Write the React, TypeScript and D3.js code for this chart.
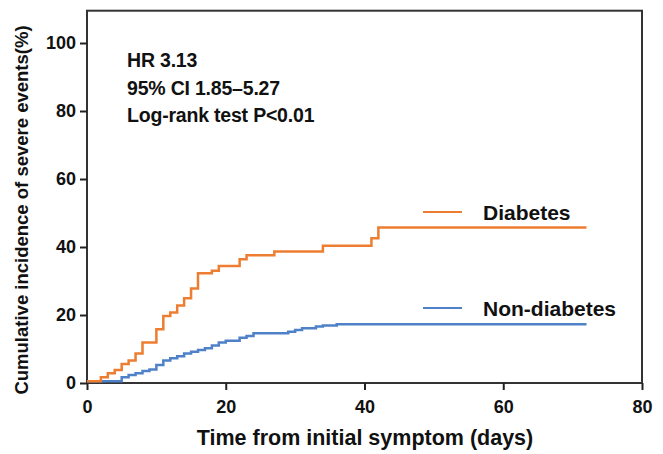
import React, { useEffect, useRef } from "react";
import * as d3 from "d3";

// step points: [day, cumulative %]
const diabetesDays = [0, 2, 3, 4, 5, 6, 7, 8, 10, 11, 12, 13, 14, 15, 16, 18, 19, 22, 23, 27, 34, 41, 42, 72];
const diabetesPct = [0.5, 1.7, 2.9, 3.8, 5.6, 6.6, 8.7, 11.9, 15.8, 19.7, 20.7, 22.8, 24.9, 27.8, 32.3, 33.0, 34.4, 36.4, 37.6, 38.7, 40.4, 42.6, 45.7, 45.7];

const nonDiabetesDays = [0, 5, 6, 7, 8, 9, 10, 11, 12, 13, 14, 15, 16, 17, 18, 19, 20, 22, 23, 24, 29, 30, 31, 33, 34, 36, 72];
const nonDiabetesPct = [0.5, 1.7, 2.35, 2.85, 3.5, 4.0, 5.3, 6.6, 7.3, 7.9, 8.7, 9.2, 9.7, 10.2, 11.0, 11.9, 12.4, 13.3, 13.8, 14.6, 15.1, 15.6, 16.1, 16.6, 16.9, 17.3, 17.3];

const xTicks = [0, 20, 40, 60, 80];
const yTicks = [0, 20, 40, 60, 80, 100];

const statLines = ["HR 3.13", "95% CI 1.85\u20135.27", "Log-rank test P<0.01"];

const ORANGE = "#ED7D31";
const BLUE = "#4F81C9";
const FONT = "'Liberation Sans', Arial, sans-serif";

const App = () => {
  const xAxisRef = useRef(null);
  const yAxisRef = useRef(null);

  const x = d3.scaleLinear().domain([0, 80]).range([87, 642]);
  const y = d3.scaleLinear().domain([0, 100]).range([383, 43]);
  const yTop = 109.5;

  const line = d3
    .line<number>()
    .x((d) => x(d[0]))
    .y((d) => y(d[1]))
    .curve(d3.curveStepAfter);

  const diabetes = diabetesDays.map((d, i) => [d, diabetesPct[i]]);
  const nonDiabetes = nonDiabetesDays.map((d, i) => [d, nonDiabetesPct[i]]);

  useEffect(() => {
    const gx = d3.select(xAxisRef.current);
    gx.selectAll("*").remove();
    gx.call(d3.axisBottom(x).tickValues(xTicks).tickSize(7).tickPadding(10).tickSizeOuter(0));

    const gy = d3.select(yAxisRef.current);
    gy.selectAll("*").remove();
    gy.call(d3.axisLeft(y).tickValues(yTicks).tickSize(7).tickPadding(4).tickSizeOuter(0));

    [gx, gy].forEach((g) => {
      g.selectAll("path.domain").remove();
      g.selectAll(".tick line").attr("stroke", "#222").attr("stroke-width", 2);
      g.selectAll(".tick text")
        .attr("fill", "#111")
        .style("font-family", FONT)
        .style("font-weight", "bold")
        .style("font-size", "18px");
    });
  }, []);

  return (
    <svg width={663} height={454} style={{ position: "absolute", left: 0, top: 0, background: "#fff" }}>
      {/* frame */}
      <rect
        x={x(0)}
        y={y(yTop)}
        width={x(80) - x(0)}
        height={y(0) - y(yTop)}
        fill="none"
        stroke="#333"
        strokeWidth={2}
      />
      <g ref={xAxisRef} transform={`translate(0,${y(0)})`} />
      <g ref={yAxisRef} transform={`translate(${x(0)},0)`} />

      <path d={line(nonDiabetes) || ""} fill="none" stroke={BLUE} strokeWidth={2.5} />
      <path d={line(diabetes) || ""} fill="none" stroke={ORANGE} strokeWidth={2.5} />

      {/* stats */}
      {statLines.map((s, i) => (
        <text
          key={s}
          x={127}
          y={67 + i * 27.5}
          fontFamily={FONT}
          fontWeight="bold"
          fontSize={19.5}
          fill="#111"
          letterSpacing={-0.2}
        >
          {s}
        </text>
      ))}

      {/* legend */}
      <line x1={423} x2={462} y1={212} y2={212} stroke={ORANGE} strokeWidth={2} />
      <text x={483} y={220} fontFamily={FONT} fontWeight="bold" fontSize={21} fill="#111">
        Diabetes
      </text>
      <line x1={423} x2={462} y1={308} y2={308} stroke={BLUE} strokeWidth={2} />
      <text x={483} y={316} fontFamily={FONT} fontWeight="bold" fontSize={21} fill="#111">
        Non-diabetes
      </text>

      {/* axis titles */}
      <text
        x={365}
        y={445}
        textAnchor="middle"
        fontFamily={FONT}
        fontWeight="bold"
        fontSize={21.5}
        fill="#111"
      >
        Time from initial symptom (days)
      </text>
      <text
        transform={`translate(28,210) rotate(-90)`}
        textAnchor="middle"
        fontFamily={FONT}
        fontWeight="bold"
        fontSize={18.5}
        fill="#111"
      >
        Cumulative incidence of severe events(%)
      </text>
    </svg>
  );
};

export default App;
